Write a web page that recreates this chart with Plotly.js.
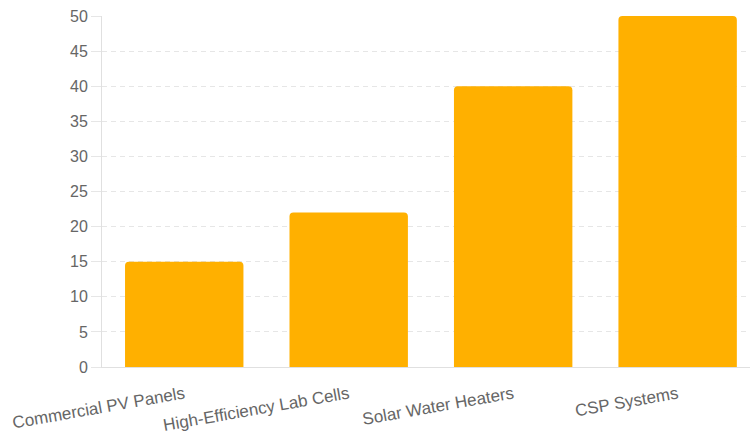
<!DOCTYPE html>
<html>
<head>
<meta charset="utf-8">
<script src="https://cdn.plot.ly/plotly-3.0.1.min.js"></script>
<style>
  html, body { margin: 0; padding: 0; background: #fff; }
  #chart { width: 750px; height: 435px; }
</style>
</head>
<body>
<div id="chart"></div>
<script>
const categories = ["Commercial PV Panels", "High-Efficiency Lab Cells", "Solar Water Heaters", "CSP Systems"];
const values = [15, 22, 40, 50];
const yTicks = [0, 5, 10, 15, 20, 25, 30, 35, 40, 45, 50];

const trace = {
  type: "bar",
  x: categories,
  y: values,
  width: 0.72,
  marker: { color: "#FFB000", cornerradius: 4, line: { width: 0 } },
  hoverinfo: "x+y"
};

const layout = {
  width: 750,
  height: 435,
  margin: { l: 102, r: 0, t: 16, b: 68 },
  paper_bgcolor: "#fff",
  plot_bgcolor: "#fff",
  showlegend: false,
  font: { family: "Liberation Sans, Arial, Helvetica, sans-serif", size: 16, color: "#666" },
  xaxis: {
    type: "category",
    range: [-0.5, 3.44],
    tickangle: -10,
    showgrid: false,
    showline: true,
    linecolor: "#e0e0e0",
    linewidth: 1,
    ticks: "",
    ticklabelstandoff: 10,
    tickfont: { size: 17, color: "#666" },
    fixedrange: true
  },
  yaxis: {
    range: [0, 50],
    tickvals: yTicks,
    ticktext: yTicks.map(String),
    showgrid: true,
    gridcolor: "#e6e6e6",
    griddash: "5px,4px",
    gridwidth: 1,
    showline: true,
    linecolor: "#e0e0e0",
    linewidth: 1,
    ticks: "outside",
    ticklen: 10,
    tickcolor: "#e6e6e6",
    tickfont: { size: 16, color: "#666" },
    zeroline: false,
    fixedrange: true
  },
  bargap: 0.28
};

Plotly.newPlot("chart", [trace], layout, { displayModeBar: false, staticPlot: true });
</script>
</body>
</html>
